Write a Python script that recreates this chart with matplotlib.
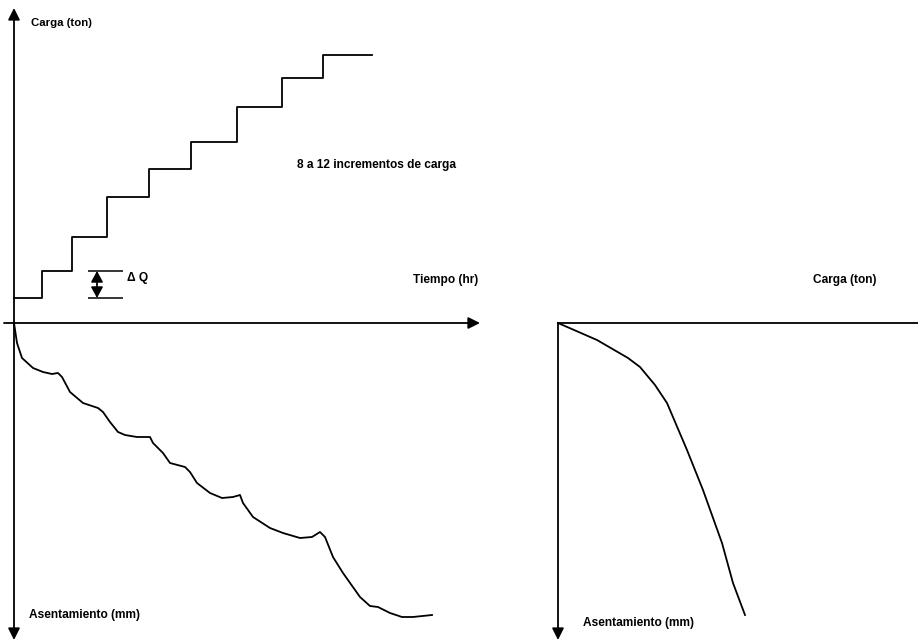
import numpy as np
import matplotlib.pyplot as plt

# Escalones de carga (tiempo en hr, carga en ton)
step_times = [0.0, 2.8, 5.8, 9.3, 13.5, 17.7, 22.3, 26.8, 30.9, 35.8]
step_loads = [2.5, 5.2, 8.6, 12.6, 15.4, 18.1, 21.6, 24.5, 26.8]

# Asentamiento vs tiempo
set_time = [0.0, 0.3, 0.8, 1.9, 2.9, 3.8, 4.4, 4.8, 5.6, 6.9, 8.4, 8.9, 9.6,
            10.4, 11.1, 12.3, 13.6, 13.9, 14.9, 15.6, 17.1, 17.6, 18.3, 19.6,
            20.8, 21.9, 22.6, 22.9, 23.9, 25.6, 26.9, 28.6, 29.8, 30.6, 31.1,
            31.9, 32.9, 34.6, 35.6, 36.4, 37.6, 38.8, 39.9, 41.8]
set_val = [0.0, 2.0, 3.5, 4.5, 4.9, 5.1, 5.0, 5.4, 6.9, 8.0, 8.5, 8.9, 9.9,
           10.9, 11.2, 11.4, 11.4, 12.0, 13.0, 14.0, 14.4, 14.9, 16.0, 17.0,
           17.5, 17.4, 17.2, 18.0, 19.4, 20.5, 21.0, 21.5, 21.4, 20.9, 21.4,
           23.4, 25.0, 27.4, 28.3, 28.4, 29.0, 29.4, 29.4, 29.2]

# Carga vs asentamiento
curve_load = [0.0, 3.9, 7.0, 8.2, 9.7, 10.9, 12.9, 14.5, 16.4, 17.5, 18.7]
curve_set = [0.0, 1.7, 3.5, 4.4, 6.2, 8.0, 12.7, 16.7, 22.0, 26.0, 29.2]

plt.rcParams['font.family'] = ['Liberation Sans', 'DejaVu Sans']

fig = plt.figure(figsize=(9.18, 6.43), dpi=100)
W, H = 918, 643
fs = 8.6

# left panel: 10 px per unit, origin at (14, 323)
ax = fig.add_axes([0, 0, 500 / W, 1])
ax.set_xlim(-1.4, 48.6)
ax.set_ylim(-32.0, 32.3)
ax.axis('off')

arrow = dict(arrowstyle='-|>,head_length=0.5,head_width=0.25', color='black',
             lw=1.3, mutation_scale=14, shrinkA=0, shrinkB=0)
ax.annotate('', xy=(0, 31.5), xytext=(0, 0), arrowprops=arrow)
ax.annotate('', xy=(0, -31.7), xytext=(0, 0), arrowprops=arrow)
ax.annotate('', xy=(46.6, 0), xytext=(-1.0, 0), arrowprops=arrow)

# staircase
sx, sy = [], []
for i, q in enumerate(step_loads):
    sx += [step_times[i], step_times[i + 1]]
    sy += [q, q]
ax.plot(sx, sy, color='black', lw=1.3)

# delta Q
dq_arrow = dict(arrowstyle='-|>,head_length=0.55,head_width=0.3',
                color='black', lw=1.2, mutation_scale=12, shrinkA=0, shrinkB=0)
ax.hlines([step_loads[0], step_loads[1]], 7.4, 10.9, color='black', lw=1.1)
ax.annotate('', xy=(8.3, step_loads[1]), xytext=(8.3, 3.85), arrowprops=dq_arrow)
ax.annotate('', xy=(8.3, step_loads[0]), xytext=(8.3, 3.85), arrowprops=dq_arrow)
ax.text(11.3, 4.5, 'Δ Q', fontsize=fs, fontweight='bold', va='center')

ax.plot(set_time, [-v for v in set_val], color='black', lw=1.3)

ax.text(1.7, 30.0, 'Carga (ton)', fontsize=8.2, fontweight='bold', va='center')
ax.text(28.3, 15.8, '8 a 12 incrementos de carga', fontsize=fs,
        fontweight='bold', va='center')
ax.text(39.9, 4.3, 'Tiempo (hr)', fontsize=fs, fontweight='bold', va='center')
ax.text(1.5, -29.2, 'Asentamiento (mm)', fontsize=fs, fontweight='bold',
        va='center')

# right panel: origin at (558, 323)
ax2 = fig.add_axes([520 / W, 0, 398 / W, 1])
ax2.set_xlim(-3.8, 36.0)
ax2.set_ylim(-32.0, 32.3)
ax2.axis('off')
ax2.annotate('', xy=(0, -31.7), xytext=(0, 0), arrowprops=arrow)
ax2.plot([0, 36.0], [0, 0], color='black', lw=1.3)
ax2.plot(curve_load, [-v for v in curve_set], color='black', lw=1.3)
ax2.text(25.5, 4.3, 'Carga (ton)', fontsize=fs, fontweight='bold', va='center')
ax2.text(2.5, -30.0, 'Asentamiento (mm)', fontsize=fs, fontweight='bold',
         va='center')

fig.savefig('out.png', dpi=100)
